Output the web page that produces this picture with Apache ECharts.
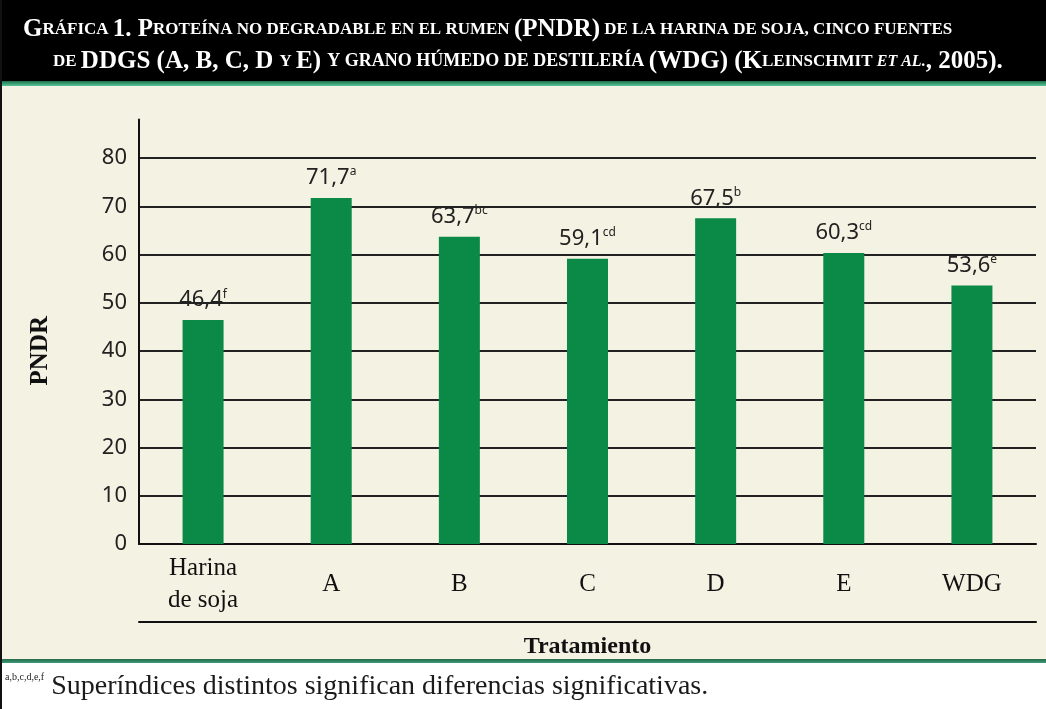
<!DOCTYPE html>
<html>
<head>
<meta charset="utf-8">
<script src="https://cdn.jsdelivr.net/npm/echarts@6/dist/echarts.min.js"></script>
<style>
html,body{margin:0;padding:0;}
#chart{width:1046px;height:709px;
background:linear-gradient(to bottom,#000 0px,#000 81px,#1f6e4a 81px,#56c79a 86px,#f4f2e3 86px,#f4f2e3 659px,#256a4a 659px,#3f9a78 663px,#ffffff 663px,#ffffff 709px);
box-shadow: inset 2px 0 0 #111;}
</style>
</head>
<body>
<div id="chart"></div>
<script>
const categories = ['Harina\nde soja', 'A', 'B', 'C', 'D', 'E', 'WDG'];
const values = [46.4, 71.7, 63.7, 59.1, 67.5, 60.3, 53.6];
const letters = ['f', 'a', 'bc', 'cd', 'b', 'cd', 'e'];
const yMin = 0, yMax = 88, yStep = 10;

const serif = '"Liberation Serif", "DejaVu Serif", serif';
const sans = '"Noto Sans", "DejaVu Sans", sans-serif';

const chart = echarts.init(document.getElementById('chart'), null, {renderer: 'canvas'});

const titleRich = {
  b: {fontFamily: serif, fontWeight: 'bold', fontSize: 25, color: '#fff'},
  s: {fontFamily: serif, fontWeight: 'bold', fontSize: 17, color: '#fff'},
  s2: {fontFamily: serif, fontWeight: 'bold', fontSize: 18, color: '#fff'},
  i: {fontFamily: serif, fontWeight: 'bold', fontStyle: 'italic', fontSize: 16, color: '#fff'}
};

const option = {
  animation: false,
  backgroundColor: 'transparent',
  title: [
    {
      text: '{b|G}{s|RÁFICA }{b|1. P}{s|ROTEÍNA NO DEGRADABLE EN EL RUMEN }{b|(PNDR)}{s| DE LA HARINA DE SOJA, CINCO FUENTES}',
      left: 18, top: 12,
      textStyle: {rich: titleRich}
    },
    {
      text: '{s|DE }{b|DDGS (A, B, C, D }{s|Y }{b|E) }{s2|Y GRANO HÚMEDO DE DESTILERÍA }{b|(WDG) (K}{s|LEINSCHMIT }{i|ET AL.}{b|, 2005).}',
      left: 48, top: 44,
      textStyle: {rich: titleRich}
    }
  ],
  graphic: [
    {
      type: 'text', left: 28, top: 316, rotation: Math.PI / 2,
      style: {text: 'PNDR', font: 'bold 25px ' + serif, fill: '#111'}
    },
    {
      type: 'text', left: 5, top: 672,
      style: {
        text: '{sup|a,b,c,d,e,f}{t| Superíndices distintos significan diferencias significativas.}',
        rich: {
          sup: {font: 'normal 10px ' + serif, fill: '#222', verticalAlign: 'top', lineHeight: 12},
          t: {font: 'normal 28px ' + serif, fill: '#1a1a1a', lineHeight: 30}
        }
      }
    }
  ],
  grid: {left: 139, right: 10, top: 119.4, bottom: 165, containLabel: false},
  xAxis: [
    {
      type: 'category',
      data: categories,
      position: 'bottom',
      axisLine: {lineStyle: {color: '#111', width: 2}},
      axisTick: {show: false},
      axisLabel: {
        color: '#111', fontFamily: serif, fontSize: 25, lineHeight: 32,
        margin: 40, verticalAlign: 'middle', interval: 0
      }
    },
    {
      type: 'category',
      data: categories,
      position: 'bottom',
      offset: 78,
      axisLine: {show: true, lineStyle: {color: '#111', width: 2}},
      axisTick: {show: false},
      axisLabel: {show: false},
      name: 'Tratamiento',
      nameLocation: 'middle',
      nameGap: 13,
      nameTextStyle: {fontFamily: serif, fontWeight: 'bold', fontSize: 24, color: '#111'}
    }
  ],
  yAxis: {
    type: 'value',
    min: yMin, max: yMax, interval: yStep,
    axisLine: {show: true, lineStyle: {color: '#111', width: 2}},
    axisTick: {show: false},
    axisLabel: {
      color: '#222', fontFamily: sans, fontSize: 22, margin: 12,
      showMaxLabel: false,
      formatter: v => (v % yStep === 0 ? String(v) : '')
    },
    splitLine: {show: true, showMaxLine: false, lineStyle: {color: '#222', width: 2}}
  },
  series: [
    {
      type: 'bar',
      data: values,
      barWidth: 41,
      itemStyle: {color: '#0a8a46'},
      label: {
        show: true,
        position: 'top',
        distance: 8,
        formatter: p => '{v|' + String(values[p.dataIndex]).replace('.', ',') + '}{s|' + letters[p.dataIndex] + '}',
        rich: {
          v: {fontFamily: sans, fontSize: 22, color: '#222', lineHeight: 24},
          s: {fontFamily: sans, fontSize: 12, color: '#222', verticalAlign: 'top', lineHeight: 14}
        }
      }
    }
  ]
};
chart.setOption(option);
</script>
</body>
</html>
